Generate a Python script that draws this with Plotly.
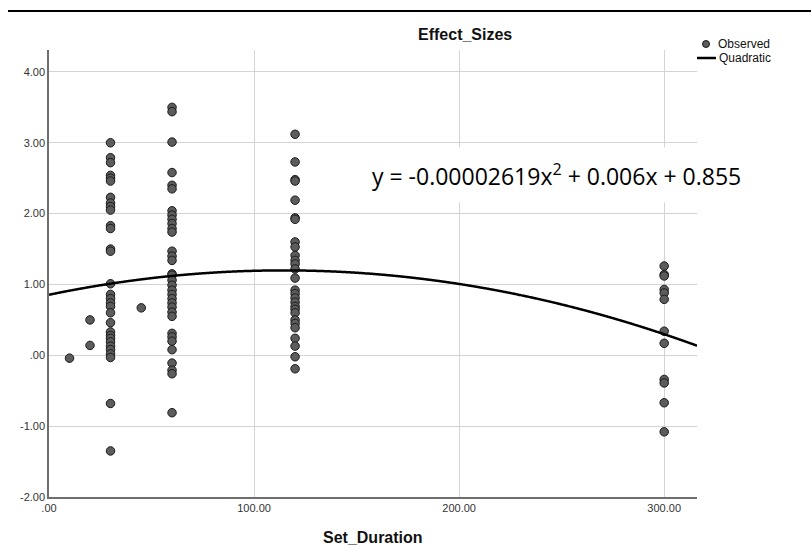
import plotly.graph_objects as go
import numpy as np

# ---- data ----
dur_10 = [-0.04]
dur_20 = [0.50, 0.14]
dur_30 = [3.00, 2.79, 2.72, 2.54, 2.50, 2.46, 2.23, 2.15, 2.10, 2.05, 1.83, 1.79,
          1.50, 1.47, 1.01, 0.86, 0.80, 0.74, 0.69, 0.60, 0.46, 0.33, 0.28, 0.24,
          0.19, 0.13, 0.08, 0.02, -0.03, -0.68, -1.35]
dur_45 = [0.67]
dur_60 = [3.50, 3.44, 3.01, 2.58, 2.40, 2.35, 2.04, 1.98, 1.92, 1.86, 1.79, 1.74,
          1.47, 1.40, 1.34, 1.15, 1.13, 1.06, 0.99, 0.92, 0.86, 0.80, 0.74, 0.68,
          0.61, 0.55, 0.31, 0.26, 0.20, 0.08, -0.11, -0.21, -0.26, -0.81]
dur_120 = [3.12, 2.73, 2.48, 2.46, 2.19, 1.94, 1.92, 1.60, 1.53, 1.41, 1.34, 1.29,
           1.22, 1.09, 0.92, 0.87, 0.81, 0.75, 0.69, 0.65, 0.60, 0.50, 0.45, 0.39,
           0.24, 0.13, -0.02, -0.19]
dur_300 = [1.26, 1.14, 1.12, 0.93, 0.88, 0.79, 0.34, 0.17, -0.34, -0.39, -0.67, -1.08]

groups = {10: dur_10, 20: dur_20, 30: dur_30, 45: dur_45, 60: dur_60,
          120: dur_120, 300: dur_300}

# quadratic fit coefficients as printed on the chart
coef_a = -0.00002619
coef_b = 0.006
coef_c = 0.855

x_ticks = [0, 100, 200, 300]
x_tick_text = [".00", "100.00", "200.00", "300.00"]
y_ticks = [-2, -1, 0, 1, 2, 3, 4]
y_tick_text = ["-2.00", "-1.00", ".00", "1.00", "2.00", "3.00", "4.00"]

# ---- build ----
xs, ys = [], []
for k, vals in groups.items():
    xs += [k] * len(vals)
    ys += vals

X_MIN, X_MAX = 0, 316
Y_MIN, Y_MAX = -2, 4.31
xc = np.linspace(X_MIN, X_MAX, 600)
yc = coef_a * xc ** 2 + coef_b * xc + coef_c

W, H = 811, 550
ML, MR, MT, MB = 49, 114, 50, 53
PW, PH = W - ML - MR, H - MT - MB


def px(x):
    return (x - ML) / PW


def py(y):
    return (H - MB - y) / PH


fig = go.Figure()
fig.add_trace(go.Scatter(
    x=xs, y=ys, mode="markers", name="Observed",
    marker=dict(size=8.5, color="#5c5c5c", line=dict(color="#1a1a1a", width=1)),
    showlegend=False, cliponaxis=False))
fig.add_trace(go.Scatter(
    x=xc, y=yc, mode="lines", name="Quadratic",
    line=dict(color="black", width=2.5, shape="spline"), showlegend=False))

tick_font = dict(family="Liberation Sans, sans-serif", size=11, color="#333333")
fig.update_layout(
    width=W, height=H,
    margin=dict(l=ML, r=MR, t=MT, b=MB),
    paper_bgcolor="white", plot_bgcolor="white",
    xaxis=dict(range=[X_MIN, X_MAX], tickvals=x_ticks, ticktext=x_tick_text,
               showgrid=True, gridcolor="#d4d4d4", gridwidth=1,
               showline=True, linecolor="#6e6e6e", linewidth=1.5,
               zeroline=False, ticks="", tickfont=tick_font),
    yaxis=dict(range=[Y_MIN, Y_MAX], tickvals=y_ticks, ticktext=y_tick_text,
               showgrid=True, gridcolor="#d4d4d4", gridwidth=1,
               showline=True, linecolor="#6e6e6e", linewidth=1.5,
               zeroline=False, ticks="", tickfont=tick_font),
    font=dict(family="Liberation Sans, sans-serif"),
)

bold_font = dict(family="Liberation Sans, sans-serif", size=16, color="#111111")
legend_font = dict(family="Liberation Sans, sans-serif", size=12, color="#111111")
annotations = [
    dict(text="<b>Effect_Sizes</b>", x=px(465), y=py(35), xref="paper", yref="paper",
         showarrow=False, font=bold_font, xanchor="center", yanchor="middle"),
    dict(text="<b>Set_Duration</b>", x=px(373), y=py(537), xref="paper", yref="paper",
         showarrow=False, font=bold_font, xanchor="center", yanchor="middle"),
    dict(text="y = -0.00002619x<sup>2</sup> + 0.006x + 0.855", x=px(556), y=py(175),
         xref="paper", yref="paper", showarrow=False, xanchor="center", yanchor="middle",
         font=dict(family="Open Sans, Noto Sans, sans-serif", size=23, color="black"),
         bgcolor="white", borderpad=10),
    dict(text="Observed", x=px(716), y=py(44), xref="paper", yref="paper",
         showarrow=False, xanchor="left", yanchor="middle", font=legend_font),
    dict(text="Quadratic", x=px(717), y=py(58), xref="paper", yref="paper",
         showarrow=False, xanchor="left", yanchor="middle", font=legend_font),
]
fig.update_layout(annotations=annotations)

shapes = [
    dict(type="line", xref="paper", yref="paper", x0=px(8), x1=px(811),
         y0=py(11), y1=py(11), line=dict(color="black", width=2)),
    dict(type="circle", xref="paper", yref="paper", x0=px(702.5), x1=px(709.5),
         y0=py(40.5), y1=py(47.5), fillcolor="#5c5c5c",
         line=dict(color="#1a1a1a", width=1)),
    dict(type="line", xref="paper", yref="paper", x0=px(697), x1=px(716),
         y0=py(58), y1=py(58), line=dict(color="black", width=2.5)),
]
fig.update_layout(shapes=shapes)

fig.write_html("out.html")
